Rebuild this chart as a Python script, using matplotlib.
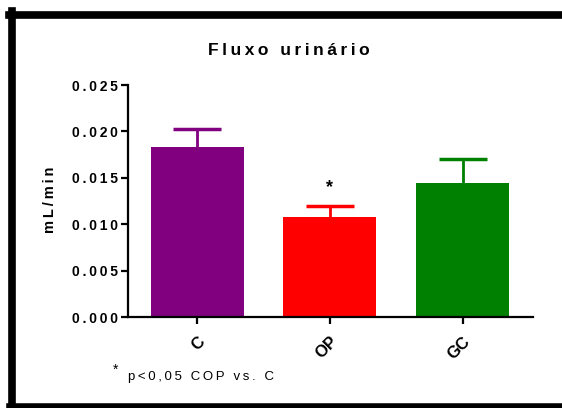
import matplotlib.pyplot as plt
from matplotlib.lines import Line2D

plt.rcParams['font.family'] = ['Liberation Sans', 'DejaVu Sans']

# dados
grupos = ['C', 'OP', 'GC']
media = [0.0183, 0.0108, 0.0144]
erro = [0.0020, 0.0012, 0.0026]
cores = ['#800080', '#ff0000', '#008000']
yticks = [0.000, 0.005, 0.010, 0.015, 0.020, 0.025]


def esp(s):
    # espaçamento entre letras (estilo Prism)
    return '\u2009'.join(s)


fig = plt.figure(figsize=(5.62, 4.08), dpi=100)
ax = fig.add_axes([0.2278, 0.223, 0.7206, 0.5686])

x = list(range(len(grupos)))
ax.bar(x, media, width=0.7, color=cores, zorder=2)
# barra de erro só para cima
for xi, m, e, c in zip(x, media, erro, cores):
    ax.vlines(xi, m, m + e, color=c, linewidth=2, zorder=1)
    ax.hlines(m + e, xi - 0.18, xi + 0.18, color=c, linewidth=2.5, zorder=1)

# asterisco sobre OP
ax.text(1, media[1] + erro[1] + 0.0010, '*', ha='center', va='bottom',
        fontsize=13, fontweight='bold')

ax.set_xlim(-0.52, 2.53)
ax.set_ylim(0, 0.025)
ax.set_yticks(yticks)
ax.set_yticklabels([esp('%.3f' % v) for v in yticks], fontsize=10, fontweight='bold')
ax.set_xticks(x)
ax.set_xticklabels(grupos, rotation=45, ha='right', va='top',
                   rotation_mode='anchor', fontsize=12, fontweight='bold')
ax.spines['top'].set_visible(False)
ax.spines['right'].set_visible(False)
ax.spines['left'].set_linewidth(1.6)
ax.spines['bottom'].set_linewidth(1.6)
ax.tick_params(axis='both', direction='out', length=5, width=1.6, pad=2)
ax.tick_params(axis='x', pad=7)

fig.text(0.089, 0.51, esp('mL/min'), rotation=90, ha='center', va='center',
         fontsize=10.5, fontweight='bold')
fig.text(0.514, 0.877, esp('Fluxo urinário'), ha='center', va='center',
         fontsize=12.5, fontweight='bold')
fig.text(0.205, 0.094, '*', ha='center', va='center', fontsize=10)
fig.text(0.228, 0.077, esp('p<0,05 COP vs. C'), ha='left', va='center', fontsize=9.5)

# moldura preta
fig.add_artist(Line2D([0.016, 1.0], [0.964, 0.964], color='black', linewidth=5.5))
fig.add_artist(Line2D([0.022, 0.022], [0.0, 0.972], color='black', linewidth=5.5))
fig.add_artist(Line2D([0.016, 1.0], [0.006, 0.006], color='black', linewidth=4))

fig.savefig('out.png', dpi=100)
